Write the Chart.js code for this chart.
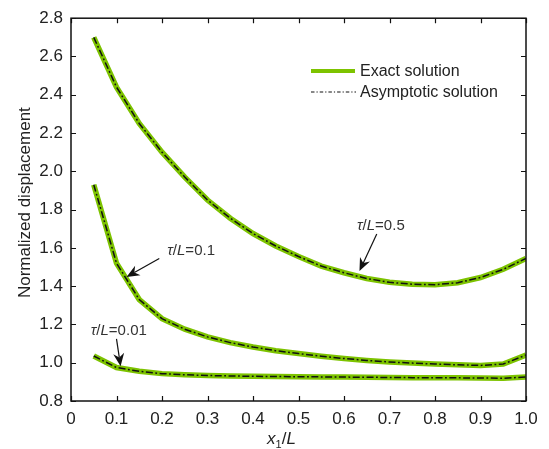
<!DOCTYPE html>
<html>
<head>
<meta charset="utf-8">
<script src="https://cdn.jsdelivr.net/npm/chart.js@4/dist/chart.umd.min.js"></script>
<style>
  html, body { margin: 0; padding: 0; background: #fff; }
</style>
</head>
<body>
<canvas id="chart" width="549" height="449"></canvas>
<script>
// x1/L positions of the computed points
const xPos = [0.05, 0.10, 0.15, 0.20, 0.25, 0.30, 0.35, 0.40, 0.45, 0.50,
              0.55, 0.60, 0.65, 0.70, 0.75, 0.80, 0.85, 0.90, 0.95, 1.00];

// normalized displacement, one array per tau/L
const tau05  = [2.70, 2.44, 2.25, 2.10, 1.97, 1.85, 1.755, 1.675, 1.61, 1.555,
                1.505, 1.47, 1.44, 1.42, 1.41, 1.408, 1.418, 1.445, 1.488, 1.545];
const tau01  = [1.93, 1.52, 1.33, 1.23, 1.175, 1.135, 1.105, 1.082, 1.063, 1.048,
                1.034, 1.022, 1.012, 1.004, 0.998, 0.993, 0.989, 0.986, 0.993, 1.04];
const tau001 = [1.035, 0.975, 0.955, 0.943, 0.937, 0.933, 0.931, 0.929, 0.928, 0.927,
                0.926, 0.925, 0.924, 0.923, 0.922, 0.921, 0.921, 0.920, 0.919, 0.925];

// asymptotic solution overlaps the exact one
const asym05  = tau05.slice();
const asym01  = tau01.slice();
const asym001 = tau001.slice();

const seriesNames = ['Exact solution', 'Asymptotic solution'];
const xTickValues = [0, 0.1, 0.2, 0.3, 0.4, 0.5, 0.6, 0.7, 0.8, 0.9, 1.0];
const yTickValues = [0.8, 1.0, 1.2, 1.4, 1.6, 1.8, 2.0, 2.2, 2.4, 2.6, 2.8];

// curve labels (data units): label centre, arrow tail, arrow tip
const noteValues = ['0.5', '0.1', '0.01'];
const noteText   = [[0.681, 1.717], [0.264, 1.582], [0.105, 1.168]];
const noteTail   = [[0.672, 1.672], [0.194, 1.545], [0.100, 1.125]];
const noteTip    = [[0.634, 1.479], [0.122, 1.448], [0.109, 0.981]];

const GREEN = '#7DC300';
const FONT = '"Liberation Sans", Arial, sans-serif';
const dashDot = [7, 2.5, 1.8, 2.5];

function pts(ys) {
    return xPos.map((x, i) => ({ x: x, y: ys[i] }));
}

function exactSet(ys) {
    return { label: seriesNames[0], data: pts(ys), borderColor: GREEN, borderWidth: 5.5,
             pointRadius: 0, tension: 0, fill: false, order: 2 };
}
function asymSet(ys) {
    return { label: seriesNames[1], data: pts(ys), borderColor: '#111', borderWidth: 1.5,
             borderDash: dashDot, pointRadius: 0, tension: 0, fill: false, order: 1 };
}

// draw a run of text pieces, each with its own font
function drawRuns(ctx, runs, x, y, align) {
    let total = 0;
    runs.forEach(r => { ctx.font = r.font; total += ctx.measureText(r.t).width; });
    let cx = align === 'center' ? x - total / 2 : x;
    runs.forEach(r => {
        ctx.font = r.font;
        ctx.fillText(r.t, cx, y + (r.dy || 0));
        cx += ctx.measureText(r.t).width;
    });
}

const framePlugin = {
    id: 'frame',
    afterDraw(chart) {
        const { ctx, chartArea: a, scales: { x, y } } = chart;
        ctx.save();
        ctx.strokeStyle = '#111';
        ctx.lineWidth = 1.5;
        ctx.strokeRect(a.left, a.top, a.right - a.left, a.bottom - a.top);
        ctx.lineWidth = 1.2;
        ctx.beginPath();
        xTickValues.forEach(v => {
            const px = Math.round(x.getPixelForValue(v)) + 0.5;
            ctx.moveTo(px, a.bottom); ctx.lineTo(px, a.bottom - 5);
            ctx.moveTo(px, a.top); ctx.lineTo(px, a.top + 5);
        });
        yTickValues.forEach(v => {
            const py = Math.round(y.getPixelForValue(v)) + 0.5;
            ctx.moveTo(a.left, py); ctx.lineTo(a.left + 5, py);
            ctx.moveTo(a.right, py); ctx.lineTo(a.right - 5, py);
        });
        ctx.stroke();

        // axis titles
        ctx.fillStyle = '#222';
        ctx.textBaseline = 'alphabetic';
        ctx.textAlign = 'left';
        const midX = (a.left + a.right) / 2 - 17;
        drawRuns(ctx, [
            { t: 'x', font: 'italic 17px ' + FONT },
            { t: '1', font: '11px ' + FONT, dy: 4 },
            { t: '/', font: '17px ' + FONT },
            { t: 'L', font: 'italic 17px ' + FONT }
        ], midX, 444, 'center');

        ctx.save();
        ctx.translate(29.5, (a.top + a.bottom) / 2 - 7);
        ctx.rotate(-Math.PI / 2);
        ctx.font = '17px ' + FONT;
        ctx.textAlign = 'center';
        ctx.fillText('Normalized displacement', 0, 0);
        ctx.restore();

        // legend
        const lx = a.left + 240, ly1 = 71, ly2 = 92;
        ctx.strokeStyle = GREEN;
        ctx.lineWidth = 4;
        ctx.setLineDash([]);
        ctx.beginPath(); ctx.moveTo(lx, ly1); ctx.lineTo(lx + 44, ly1); ctx.stroke();
        ctx.strokeStyle = '#111';
        ctx.lineWidth = 1.2;
        ctx.setLineDash([3.5, 2, 1.2, 2]);
        ctx.beginPath(); ctx.moveTo(lx, ly2); ctx.lineTo(lx + 45, ly2); ctx.stroke();
        ctx.setLineDash([]);
        ctx.font = '16px ' + FONT;
        ctx.textBaseline = 'middle';
        ctx.textAlign = 'left';
        ctx.fillText(seriesNames[0], lx + 49, ly1 + 1);
        ctx.fillText(seriesNames[1], lx + 49, ly2 + 1);

        // curve labels with arrows
        ctx.textBaseline = 'middle';
        noteValues.forEach((val, i) => {
            const tx = x.getPixelForValue(noteText[i][0]);
            const ty = y.getPixelForValue(noteText[i][1]);
            ctx.fillStyle = '#333';
            ctx.textAlign = 'left';
            drawRuns(ctx, [
                { t: '\u03C4', font: 'italic 15px ' + FONT },
                { t: '/', font: '15px ' + FONT },
                { t: 'L', font: 'italic 15px ' + FONT },
                { t: '=' + val, font: '15px ' + FONT }
            ], tx, ty, 'center');

            const x0 = x.getPixelForValue(noteTail[i][0]);
            const y0 = y.getPixelForValue(noteTail[i][1]);
            const x1 = x.getPixelForValue(noteTip[i][0]);
            const y1 = y.getPixelForValue(noteTip[i][1]);
            const ang = Math.atan2(y1 - y0, x1 - x0);
            const len = 13, half = 5.5, notch = 9;
            ctx.strokeStyle = '#111';
            ctx.fillStyle = '#111';
            ctx.lineWidth = 1.2;
            ctx.beginPath();
            ctx.moveTo(x0, y0);
            ctx.lineTo(x1 - Math.cos(ang) * notch, y1 - Math.sin(ang) * notch);
            ctx.stroke();
            const c = Math.cos(ang), s = Math.sin(ang);
            ctx.beginPath();
            ctx.moveTo(x1, y1);
            ctx.lineTo(x1 - c * len - s * half, y1 - s * len + c * half);
            ctx.lineTo(x1 - c * notch, y1 - s * notch);
            ctx.lineTo(x1 - c * len + s * half, y1 - s * len - c * half);
            ctx.closePath();
            ctx.fill();
        });
        ctx.restore();
    }
};

new Chart(document.getElementById('chart').getContext('2d'), {
    type: 'line',
    data: {
        datasets: [
            exactSet(tau05), exactSet(tau01), exactSet(tau001),
            asymSet(asym05), asymSet(asym01), asymSet(asym001)
        ]
    },
    options: {
        responsive: false,
        animation: false,
        layout: { padding: { left: 0, right: 23, top: 15, bottom: 0 } },
        plugins: {
            legend: { display: false },
            tooltip: { enabled: false }
        },
        scales: {
            x: {
                type: 'linear',
                min: 0, max: 1,
                grid: { display: false, drawTicks: false },
                border: { display: false },
                afterFit: (scale) => { scale.height = 48; },
                afterBuildTicks: (scale) => { scale.ticks = xTickValues.map(v => ({ value: v })); },
                ticks: {
                    autoSkip: false, maxRotation: 0, padding: 8,
                    color: '#222', font: { family: FONT, size: 17 },
                    callback: (v) => v === 0 ? '0' : v.toFixed(1)
                }
            },
            y: {
                type: 'linear',
                min: 0.8, max: 2.8,
                grid: { display: false, drawTicks: false },
                border: { display: false },
                afterFit: (scale) => { scale.width = 71; },
                afterBuildTicks: (scale) => { scale.ticks = yTickValues.map(v => ({ value: v })); },
                ticks: {
                    autoSkip: false, padding: 8,
                    color: '#222', font: { family: FONT, size: 17 },
                    callback: (v) => v.toFixed(1)
                }
            }
        }
    },
    plugins: [framePlugin]
});
</script>
</body>
</html>
